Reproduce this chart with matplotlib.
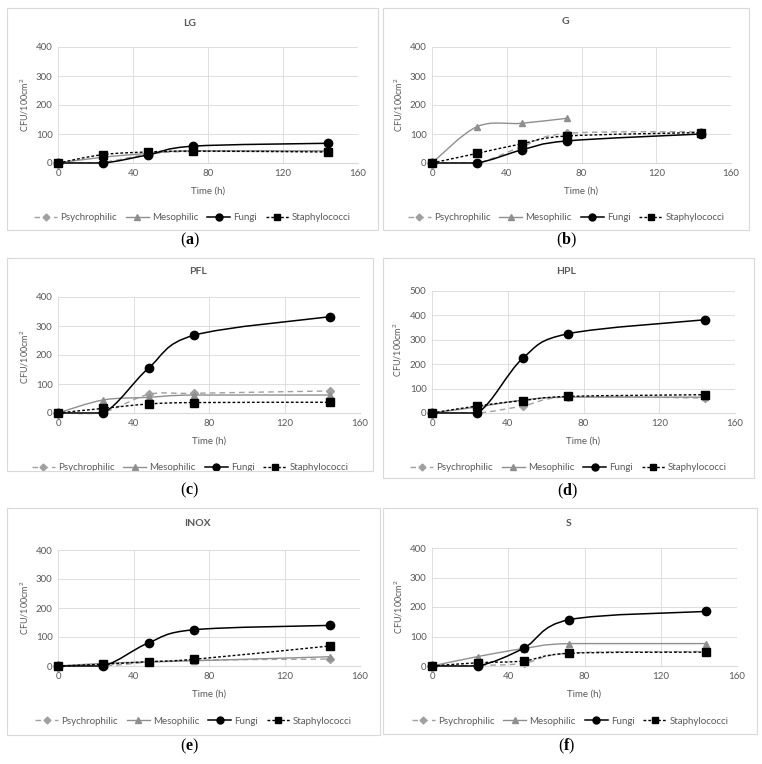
import numpy as np
import matplotlib.pyplot as plt
from matplotlib.path import Path
from matplotlib.patches import PathPatch, Rectangle
from matplotlib.lines import Line2D

# Data

time = [0, 24, 48, 72, 144]
series = ["Psychrophilic", "Mesophilic", "Fungi", "Staphylococci"]
titles = ["LG", "G", "PFL", "HPL", "INOX", "S"]
letters = ["a", "b", "c", "d", "e", "f"]

lg_psychro = [0, 3, 30, 40, 40]
lg_meso = [0, 20, 33, 42, 42]
lg_fungi = [0, 0, 28, 58, 68]
lg_staph = [0, 29, 38, 41, 38]

g_psychro = [0, 0, 56, 102, 108]
g_meso = [0, 125, 137, 154, np.nan]
g_fungi = [0, 0, 45, 76, 100]
g_staph = [0, 33, 66, 93, 105]

pfl_psychro = [0, 3, 64, 68, 76]
pfl_meso = [0, 45, 54, 62, 62]
pfl_fungi = [0, 0, 155, 268, 332]
pfl_staph = [0, 16, 31, 36, 37]

hpl_psychro = [0, 0, 29, 66, 61]
hpl_meso = [0, 25, 53, 65, 65]
hpl_fungi = [0, 0, 225, 325, 382]
hpl_staph = [0, 29, 51, 68, 75]

inox_psychro = [0, 0, 13, 20, 24]
inox_meso = [0, 9, 14, 18, 32]
inox_fungi = [0, 0, 80, 125, 140]
inox_staph = [0, 6, 15, 23, 69]

s_psychro = [0, 2, 9, 44, 49]
s_meso = [0, 32, 59, 76, 76]
s_fungi = [0, 0, 60, 157, 185]
s_staph = [0, 11, 17, 43, 47]

panel_data = [
    [lg_psychro, lg_meso, lg_fungi, lg_staph],
    [g_psychro, g_meso, g_fungi, g_staph],
    [pfl_psychro, pfl_meso, pfl_fungi, pfl_staph],
    [hpl_psychro, hpl_meso, hpl_fungi, hpl_staph],
    [inox_psychro, inox_meso, inox_fungi, inox_staph],
    [s_psychro, s_meso, s_fungi, s_staph],
]
ymax = [400, 400, 400, 500, 400, 400]

# Styles

W, H = 762, 764
txt = '#595959'
styles = [
    dict(color='#a0a0a0', ls=(0, (4, 3)), lw=1.0, marker='D', ms=4.0, lms=3.5),
    dict(color='#8f8f8f', ls='-', lw=1.0, marker='^', ms=5.0, lms=4.5),
    dict(color='black', ls='-', lw=1.1, marker='o', ms=6.0, lms=5.0),
    dict(color='black', ls=(0, (2, 1.5)), lw=1.0, marker='s', ms=5.5, lms=4.5),
]

# pixel layout: plot area (x0, x1, ytop, ybot), panel box, ylabel, title, letter
plots = [(58, 358, 47, 163), (432, 731, 47, 163),
         (58, 360, 297, 413), (432, 735, 291, 413),
         (58, 360, 550, 666), (432, 737, 548, 666)]
boxes = [(7, 378, 8, 230), (383, 749, 8, 230),
         (7, 373, 258, 471), (383, 754, 258, 478),
         (7, 380, 508, 735), (383, 757, 508, 734)]
ylab_pos = [(25, 105), (399, 105), (25, 357), (398, 350), (25, 608), (399, 607)]
title_pos = [(190, 23), (565, 22), (198, 272), (566, 271), (197, 524), (569, 523)]
letter_pos = [(190, 240), (566, 240), (190, 490), (567, 491), (190, 746), (567, 746)]


def fx(px):
    return px / W


def fy(py):
    return 1 - py / H


def smooth_path(x, y, t=1/6):
    # Excel-like smoothed line as cubic Bezier segments
    pts = np.column_stack([x, y])
    n = len(pts)
    verts = [pts[0]]
    codes = [Path.MOVETO]
    for i in range(n - 1):
        p0 = pts[max(i - 1, 0)]
        p1 = pts[i]
        p2 = pts[i + 1]
        p3 = pts[min(i + 2, n - 1)]
        c1 = p1 + (p2 - p0)*t
        c2 = p2 - (p3 - p1)*t
        if p1[1] == p2[1]:
            c1[1] = p1[1]
            c2[1] = p2[1]
        verts += [c1, c2, p2]
        codes += [Path.CURVE4]*3
    return Path(verts, codes)


plt.rcParams['font.family'] = ['Lato', 'DejaVu Sans']
plt.rcParams['mathtext.default'] = 'regular'
plt.rcParams['mathtext.fontset'] = 'custom'
plt.rcParams['mathtext.bf'] = 'Liberation Serif:bold'

fig = plt.figure(figsize=(W/100, H/100), dpi=100)

for k in range(6):
    bx0, bx1, by0, by1 = boxes[k]
    fig.patches.append(Rectangle((fx(bx0), fy(by1)), fx(bx1 - bx0), (by1 - by0)/H,
                                 transform=fig.transFigure, fill=False,
                                 ec='#d9d9d9', lw=0.8))

    x0, x1, yt, yb = plots[k]
    ax = fig.add_axes([fx(x0), fy(yb), fx(x1 - x0), (yb - yt)/H])
    ax.set_xlim(0, 160)
    ax.set_ylim(0, ymax[k])
    ax.set_xticks([0, 40, 80, 120, 160])
    ax.set_yticks(np.arange(0, ymax[k] + 1, 100))
    ax.grid(True, color='#d9d9d9', lw=0.6)
    ax.set_axisbelow(True)
    for s in ['top', 'right', 'left']:
        ax.spines[s].set_visible(False)
    ax.spines['bottom'].set_color('#d9d9d9')
    ax.tick_params(length=0, labelsize=7, colors=txt, pad=4)

    for j in range(4):
        yv = np.array(panel_data[k][j], dtype=float)
        xv = np.array(time, dtype=float)
        ok = ~np.isnan(yv)
        xv, yv = xv[ok], yv[ok]
        st = styles[j]
        ax.add_patch(PathPatch(smooth_path(xv, yv), fill=False, ec=st['color'],
                               ls=st['ls'], lw=st['lw'], zorder=2 + j, clip_on=False))
        ax.plot(xv, yv, ls='none', marker=st['marker'], ms=st['ms'],
                color=st['color'], zorder=2 + j, clip_on=False)

    fig.text(fx((x0 + x1)/2), fy(yb + 28), "Time (h)", ha='center', va='center',
             fontsize=7, color=txt)
    fig.text(fx(ylab_pos[k][0]), fy(ylab_pos[k][1]), "CFU/100cm$^2$", rotation=90,
             ha='center', va='center', fontsize=6.5, color=txt)
    fig.text(fx(title_pos[k][0]), fy(title_pos[k][1]), titles[k], ha='center',
             va='center', fontsize=7.5, color=txt, fontweight='bold')
    fig.text(fx(letter_pos[k][0]), fy(letter_pos[k][1]),
             r"($\mathbf{" + letters[k] + "}$)",
             ha='center', va='center', fontsize=11.5, family='Liberation Serif')

    handles = [Line2D([], [], color=st['color'], ls=st['ls'], lw=st['lw'],
                      marker=st['marker'], ms=st['lms']) for st in styles]
    leg = ax.legend(handles, series, loc='center', ncol=4, frameon=False,
                    bbox_to_anchor=(fx((bx0 + bx1)/2), fy(yb + 55)),
                    bbox_transform=fig.transFigure, fontsize=7,
                    handlelength=2.4, handletextpad=0.3, columnspacing=0.9,
                    borderpad=0.2)
    for t in leg.get_texts():
        t.set_color(txt)

fig.savefig("out.png", dpi=100)
